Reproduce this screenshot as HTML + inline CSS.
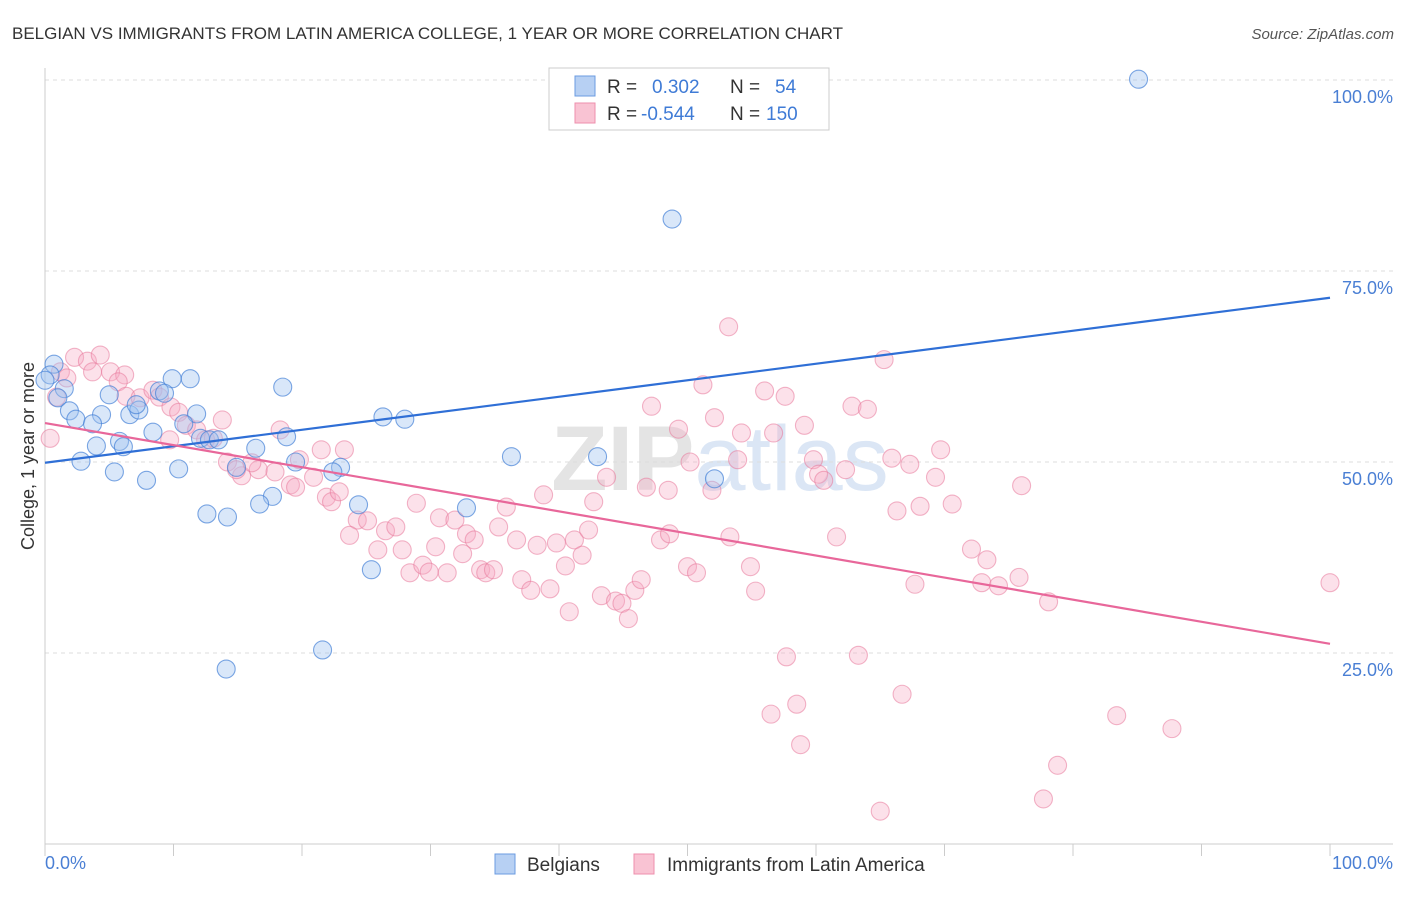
<!DOCTYPE html>
<html><head><meta charset="utf-8"><style>
body{margin:0;background:#fff;font-family:"Liberation Sans",sans-serif}
svg text{font-family:"Liberation Sans",sans-serif}
</style></head><body>
<svg width="1406" height="892" xmlns="http://www.w3.org/2000/svg">
<text x="12" y="39" font-size="17" fill="#333">BELGIAN VS IMMIGRANTS FROM LATIN AMERICA COLLEGE, 1 YEAR OR MORE CORRELATION CHART</text>
<text x="1394" y="39" font-size="15" fill="#555" font-style="italic" text-anchor="end">Source: ZipAtlas.com</text>
<text x="720" y="490" font-size="92" fill="#e4e4e4" text-anchor="middle" font-weight="bold">ZIP<tspan fill="#dbe6f5" font-weight="normal">atlas</tspan></text>
<g id="grid"></g>
<line x1="45" y1="68" x2="45" y2="844" stroke="#ccc"/>
<line x1="45" y1="844" x2="1393" y2="844" stroke="#ccc"/>
<text transform="translate(34,456) rotate(-90)" font-size="18" fill="#333" text-anchor="middle">College, 1 year or more</text>
<text x="45" y="869" font-size="18" fill="#4a7fd4">0.0%</text>
<text x="1393" y="869" font-size="18" fill="#4a7fd4" text-anchor="end">100.0%</text>
<g id="pts"></g>
<g id="lines"></g>
<g>
<rect x="549" y="68" width="280" height="62" fill="#fff" stroke="#ccc"/>
<rect x="575" y="76" width="20" height="20" fill="#b7d0f3" stroke="#6b9be0"/>
<rect x="575" y="103" width="20" height="20" fill="#f9c3d3" stroke="#ee8fac"/>
<text x="607" y="93" font-size="19" fill="#333">R =</text>
<text x="652" y="93" font-size="19" fill="#3f7bd6">0.302</text>
<text x="730" y="93" font-size="19" fill="#333">N =</text>
<text x="775" y="93" font-size="19" fill="#3f7bd6">54</text>
<text x="607" y="120" font-size="19" fill="#333">R =</text>
<text x="641" y="120" font-size="19" fill="#3f7bd6">-0.544</text>
<text x="730" y="120" font-size="19" fill="#333">N =</text>
<text x="766" y="120" font-size="19" fill="#3f7bd6">150</text>
</g>
<g>
<rect x="495" y="854" width="20" height="20" fill="#b7d0f3" stroke="#6b9be0"/>
<text x="527" y="871" font-size="19" fill="#333">Belgians</text>
<rect x="634" y="854" width="20" height="20" fill="#f9c3d3" stroke="#ee8fac"/>
<text x="667" y="871" font-size="19" fill="#333">Immigrants from Latin America</text>
</g>
</svg>
<script>
const yTicks=[25,50,75,100];
const yTickLabels=["25.0%","50.0%","75.0%","100.0%"];
const xTickVals=[0,10,20,30,40,50,60,70,80,90,100];
const blueX=[85.1,48.8,0.7,0.4,1.5,1.0,5.0,8.9,9.9,11.3,18.5,1.9,2.4,4.4,3.7,6.6,7.3,7.1,11.8,8.4,9.3,10.8,12.1,12.8,13.5,5.8,4.0,6.1,16.4,18.8,2.8,5.4,7.9,10.4,14.9,19.5,23.0,22.4,26.3,28.0,17.7,16.7,12.6,14.2,24.4,32.8,25.4,14.1,21.6,36.3,43.0,52.1,0];
const blueY=[100.1,81.8,62.8,61.4,59.6,58.4,58.8,59.3,60.9,60.9,59.8,56.7,55.6,56.2,55.0,56.2,56.8,57.5,56.3,53.9,59.0,55.0,53.1,52.9,52.9,52.7,52.1,52.0,51.8,53.3,50.1,48.7,47.6,49.1,49.3,50.0,49.3,48.7,55.9,55.6,45.5,44.5,43.2,42.8,44.4,44.0,35.9,22.9,25.4,50.7,50.7,47.8,60.7];
const pinkX=[2.3,3.3,4.3,5.1,6.2,5.7,1.2,1.7,0.9,0.4,3.7,6.3,7.4,8.4,8.9,9.8,10.4,11.0,9.7,11.8,12.5,13.8,13.1,14.2,15.3,16.6,14.9,16.1,17.9,18.3,19.1,19.5,19.8,21.5,20.9,23.3,21.9,22.3,22.9,24.3,25.1,23.7,25.9,26.5,27.3,27.8,28.4,29.4,29.9,31.3,28.9,30.7,30.4,31.9,32.8,33.4,32.5,33.9,34.3,34.9,35.3,35.9,36.7,37.1,37.8,38.8,38.3,39.3,39.8,40.5,40.8,41.2,41.8,42.3,42.7,43.3,43.7,44.4,44.9,45.4,45.9,46.4,46.8,47.2,47.9,48.5,48.6,49.3,50.0,50.2,50.7,51.2,51.9,52.1,53.2,53.3,54.2,53.9,54.9,55.3,56.0,56.7,57.6,57.7,58.5,58.8,56.5,59.1,59.8,60.2,60.6,61.6,62.3,62.8,64.0,63.3,65.3,65.9,66.3,66.7,67.3,67.7,68.1,69.3,69.7,70.6,72.1,72.9,73.3,74.2,75.8,76.0,77.7,78.1,78.8,83.4,87.7,100,65.0];
const pinkY=[63.7,63.2,64.0,61.8,61.4,60.5,61.8,61.0,58.5,53.1,61.8,58.6,58.4,59.4,58.5,57.2,56.5,54.8,52.9,54.2,52.9,55.5,53.1,50.0,48.2,49.0,49.0,49.9,48.7,54.2,47.0,46.7,50.3,51.6,48.0,51.6,45.4,44.8,46.1,42.4,42.3,40.4,38.5,41.0,41.5,38.5,35.5,36.5,35.6,35.5,44.6,42.7,38.9,42.4,40.6,39.8,38.0,35.9,35.5,35.9,41.5,44.1,39.8,34.6,33.2,45.7,39.1,33.4,39.4,36.4,30.4,39.8,37.8,41.1,44.8,32.5,48.0,31.8,31.5,29.5,33.2,34.6,46.7,57.3,39.8,46.3,40.6,54.3,36.3,50.0,35.5,60.1,46.3,55.8,67.7,40.2,53.8,50.3,36.3,33.1,59.3,53.8,58.6,24.5,18.3,13.0,17.0,54.8,50.3,48.4,47.6,40.2,49.0,57.3,56.9,24.7,63.4,50.5,43.6,19.6,49.7,34.0,44.2,48.0,51.6,44.5,38.6,34.2,37.2,33.8,34.9,46.9,5.9,31.7,10.3,16.8,15.1,34.2,4.3];
const blueTrend=[49.9,71.5];
const pinkTrend=[55.1,26.2];
const NS="http://www.w3.org/2000/svg";
const sx=v=>45+v*12.85, sy=v=>844-v*7.64;
function mk(t,a){const e=document.createElementNS(NS,t);for(const k in a)e.setAttribute(k,a[k]);return e;}
const grid=document.getElementById('grid');
yTicks.forEach((t,i)=>{
 const l=mk('line',{x1:45,x2:1393,y1:sy(t),y2:sy(t),stroke:'#ddd','stroke-dasharray':'4,4'});
 
 
 grid.appendChild(l);
 const tx=mk('text',{x:1393,y:sy(t)+23,'font-size':18,fill:'#4a7fd4','text-anchor':'end'});
 tx.textContent=yTickLabels[i];
 
 
 grid.appendChild(tx);
});
xTickVals.forEach(t=>{
 const l=mk('line',{x1:sx(t),x2:sx(t),y1:844,y2:856,stroke:'#ccc'});
 
 
 grid.appendChild(l);
});
const pts=document.getElementById('pts');
pinkX.forEach((x,i)=>{
 const c=mk('circle',{cx:sx(x),cy:sy(pinkY[i]),r:9,fill:'rgba(246,170,195,0.35)',stroke:'rgba(232,120,155,0.55)','stroke-width':1.1});
 
 
 pts.appendChild(c);
});
blueX.forEach((x,i)=>{
 const c=mk('circle',{cx:sx(x),cy:sy(blueY[i]),r:9,fill:'rgba(160,195,240,0.4)',stroke:'rgba(70,130,215,0.7)','stroke-width':1.1});
 
 
 pts.appendChild(c);
});
const lines=document.getElementById('lines');
const bl=mk('line',{x1:sx(0),y1:sy(blueTrend[0]),x2:sx(100),y2:sy(blueTrend[1]),stroke:'#2f6fd6','stroke-width':2.2});


lines.appendChild(bl);
const pl=mk('line',{x1:sx(0),y1:sy(pinkTrend[0]),x2:sx(100),y2:sy(pinkTrend[1]),stroke:'#e8679a','stroke-width':2.2});


lines.appendChild(pl);
</script>
</body></html>
